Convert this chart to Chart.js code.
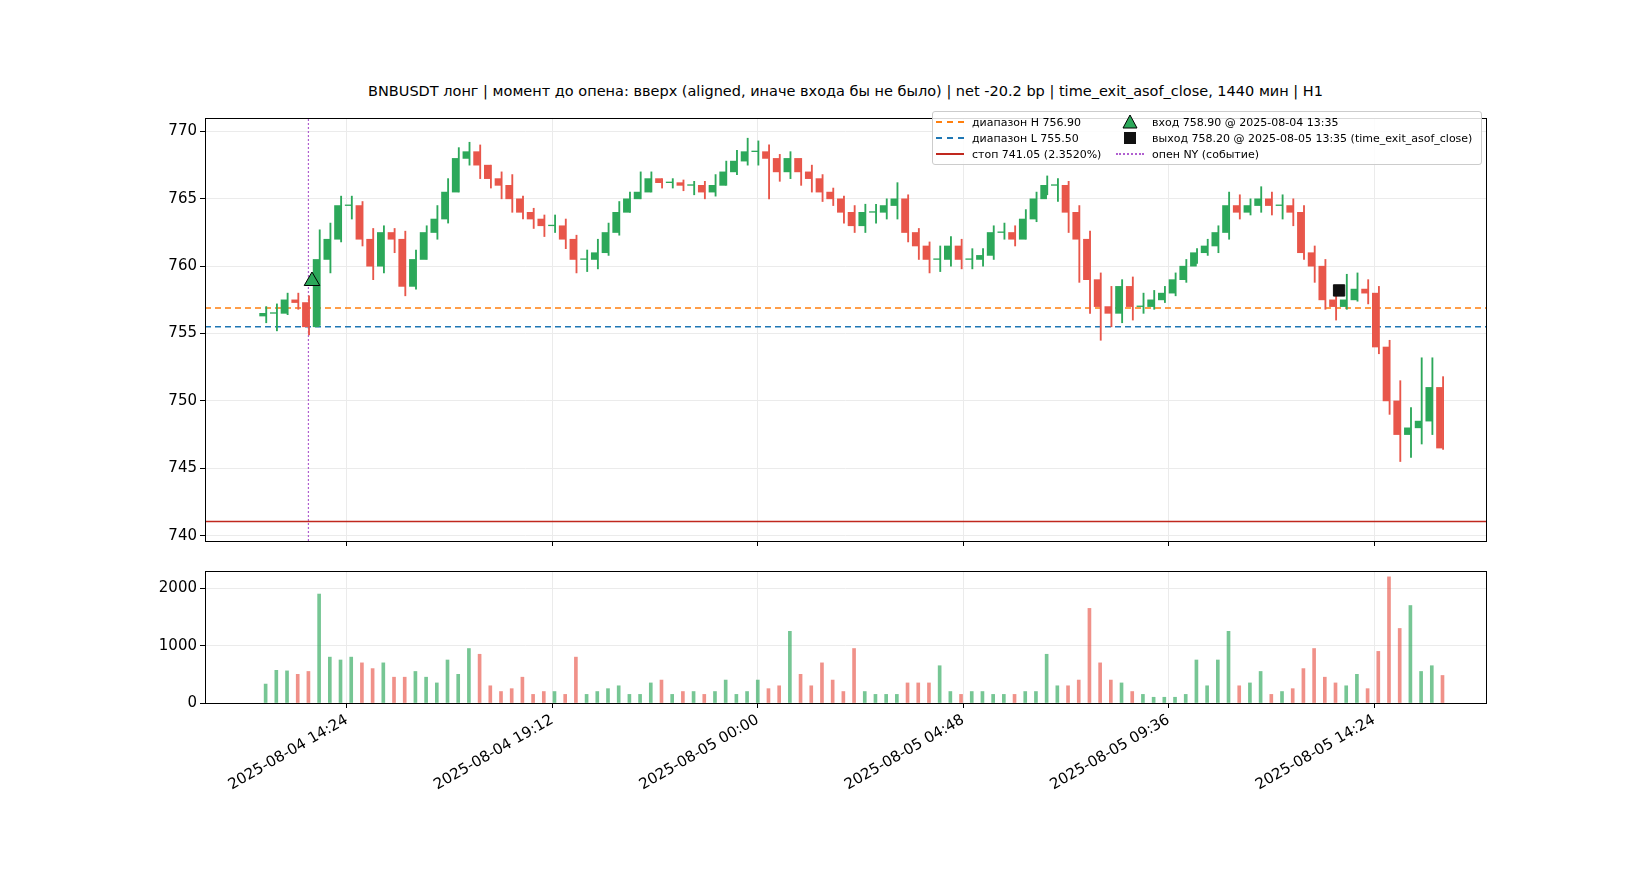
<!DOCTYPE html>
<html><head><meta charset="utf-8">
<script src="https://cdn.jsdelivr.net/npm/chart.js@4.4.1/dist/chart.umd.min.js"></script>
<style>
body{margin:0;width:1650px;height:880px;background:#fff;font-family:"DejaVu Sans",sans-serif;position:relative;overflow:hidden}
canvas{position:absolute}
#title{position:absolute;top:83px;left:205px;width:1281px;text-align:center;font-size:14.5px;color:#000}
#legend{position:absolute;left:932px;top:111px;width:548px;height:52px;border:1px solid #ccc;border-radius:3px;background:rgba(255,255,255,0.85);font-size:11px;color:#000}
.li{position:absolute;display:flex;align-items:center;height:16px}
.sw{width:28px;margin-right:8px;height:0}
</style></head><body>
<div id="title">BNBUSDT лонг | момент до опена: вверх (aligned, иначе входа бы не было) | net -20.2 bp | time_exit_asof_close, 1440 мин | H1</div>
<canvas id="pc" width="1370" height="447" style="left:137px;top:106px;width:1370px;height:447px"></canvas>
<canvas id="vc" width="1370" height="321" style="left:137px;top:559px;width:1370px;height:321px"></canvas>
<div id="legend">
 <div class="li" style="left:3px;top:2px"><div class="sw" style="border-top:2px dashed #ff7f0e"></div>диапазон H 756.90</div>
 <div class="li" style="left:3px;top:18px"><div class="sw" style="border-top:2px dashed #1f77b4"></div>диапазон L 755.50</div>
 <div class="li" style="left:3px;top:34px"><div class="sw" style="border-top:2px solid #c0281e"></div>стоп 741.05 (2.3520%)</div>
 <div class="li" style="left:183px;top:2px"><div class="sw" style="height:16px;border:none"><svg width="28" height="16"><polygon points="14,1 21,14 7,14" fill="#2ca85a" stroke="#000" stroke-width="1"/></svg></div>вход 758.90 @ 2025-08-04 13:35</div>
 <div class="li" style="left:183px;top:18px"><div class="sw" style="height:16px;border:none"><svg width="28" height="16"><rect x="8" y="2" width="12" height="12" fill="#111"/></svg></div>выход 758.20 @ 2025-08-05 13:35 (time_exit_asof_close)</div>
 <div class="li" style="left:183px;top:34px"><div class="sw" style="border-top:2px dotted #b060d0"></div>опен NY (событие)</div>
</div>
<script>
// minutes since 2025-08-04 00:00; 15-min candles starting 12:30
const startMin = 750, stepMin = 15;
const closes = [756.5,756.5,757.5,757.3,755.5,760.5,762,764.5,764.5,762,
760,762.5,762,758.5,760.5,762.5,763.5,765.5,768,768.5,
767.5,766.5,766,765,764,763.5,763,763,762,760.5,
760.5,761,762.5,764,765,765.5,766.5,766.2,766.2,766,
766,765.5,766,767,767.8,768.5,768.5,768,767,768,
767,766.5,765.5,765,764,763,764,764,764.5,765,
762.5,761.5,760.5,760.5,761.5,760.5,760.5,760.8,762.5,762.5,
762,763.5,765,766,766,764,762,759,757,756.5,
758.5,757,757,757.5,758,759,760,761,761.5,762.5,
764.5,764,764.5,765,764.5,764.5,764,761,760,757.5,
757,757.5,758.3,758,754,750,747.5,748,748.5,751,
746.5];
const firstOpen = 756.3;
const highs = [757.0,757.2,758.0,758.0,757.8,762.7,763.2,765.2,765.2,764.8,
762.8,763.0,762.8,762.6,761.2,763.0,764.5,766.5,768.8,769.2,
769.0,767.5,767.0,766.8,765.2,764.3,763.8,763.8,763.5,762.3,
761.2,762.0,763.2,764.8,765.5,767.0,767.0,766.5,766.5,766.4,
766.3,766.3,766.8,767.8,768.6,769.5,769.3,769.0,768.3,768.5,
768.0,767.5,766.8,765.8,765.2,764.5,764.6,764.6,765.0,766.2,
765.3,762.8,761.8,761.5,762.2,762.0,761.3,761.3,763.0,763.2,
763.0,764.2,765.5,766.7,766.5,766.3,764.5,762.6,759.5,758.5,
759.0,759.2,758.0,758.2,758.5,759.5,760.5,761.3,762.0,763.0,
765.5,765.3,765.0,765.9,765.5,765.3,765.0,764.5,761.5,760.5,
758.5,759.4,759.5,759.0,758.5,754.5,751.5,749.5,753.2,753.2,
751.8];
const lows = [755.8,755.2,756.4,756.8,754.9,755.6,759.5,761.8,763.5,761.5,
759.0,759.5,761.0,757.8,758.3,760.5,762.0,763.2,765.5,767.5,
766.5,765.8,765.0,764.0,763.5,762.8,762.2,762.5,761.3,759.5,
759.6,759.8,760.8,762.3,764.0,765.0,765.5,765.8,765.8,765.6,
765.3,765.0,765.2,766.0,766.8,767.5,767.5,765.0,766.3,766.5,
766.0,765.5,764.8,764.5,763.2,762.5,762.5,763.2,763.5,763.5,
761.8,760.5,759.5,759.6,760.0,759.8,759.8,760.0,760.5,762.0,
761.5,762.0,763.3,765.3,764.8,762.5,758.8,756.5,754.5,755.5,
755.8,756.0,756.5,756.8,757.3,757.8,758.8,760.2,760.8,761.0,
762.0,763.5,763.8,764.0,763.8,763.5,763.0,760.5,758.8,756.8,
756.0,756.8,757.4,757.2,753.5,749.0,745.5,745.8,746.8,747.5,
746.4];
const volumes = [330,570,560,500,550,1900,800,750,800,700,
600,700,450,450,550,450,350,750,500,950,
850,300,200,250,450,150,200,200,150,800,
150,200,250,300,150,150,350,400,150,200,
200,150,200,400,150,200,400,250,300,1250,
500,300,700,400,200,950,200,150,150,150,
350,350,350,650,200,150,200,200,150,150,
150,200,200,850,300,300,400,1650,700,400,
350,200,150,100,100,100,150,750,300,750,
1250,300,350,550,150,200,250,600,950,450,
350,300,500,250,900,2200,1300,1700,550,650,
480];
const rangeH = 756.90, rangeL = 755.50, stop = 741.05;
const entryT = 815, entryP = 758.90, exitT = 2255, exitP = 758.20, nyOpenT = 810;
const tickVals = [864,1152,1440,1728,2016,2304];
const tickLabels = ['2025-08-04 14:24','2025-08-04 19:12','2025-08-05 00:00','2025-08-05 04:48','2025-08-05 09:36','2025-08-05 14:24'];
const xMin = 665, xMax = 2461;

const GREEN='#2ca85a', RED='#e8564a';
const opens = closes.map((c,i)=> i===0 ? firstOpen : closes[i-1]);
const times = closes.map((c,i)=> startMin + stepMin*i);
const up = closes.map((c,i)=> c>=opens[i]);
const cols = up.map(u=> u?GREEN:RED);

const frame = {id:'frame',afterDraw(ch){const a=ch.chartArea,c=ch.ctx;c.save();c.strokeStyle='#000';c.lineWidth=1;c.strokeRect(a.left+0.5,a.top+0.5,a.right-a.left,a.bottom-a.top);c.restore();}};
const gridCol='#ebebeb';
const FONT={family:'DejaVu Sans',size:15};
function xScale(showLabels,h){return {type:'linear',min:xMin,max:xMax,offset:false,
  afterBuildTicks(s){s.ticks=tickVals.map(v=>({value:v}));},
  afterFit(s){s.height=h;},
  grid:{color:gridCol,tickColor:'#000',tickLength:5,drawTicks:true,offset:false},
  border:{display:false},
  ticks:{display:showLabels,autoSkip:false,maxRotation:30,minRotation:30,color:'#000',font:FONT,callback:(v)=>{const i=tickVals.indexOf(v);return i>=0?tickLabels[i]:'';}}};}
const yFit = s=>{s.width=68;};

new Chart(document.getElementById('pc'),{
 type:'bar',
 data:{datasets:[
  {type:'line',data:[{x:xMin,y:rangeH},{x:xMax,y:rangeH}],borderColor:'#ff7f0e',borderWidth:1.5,borderDash:[6,4],pointRadius:0,order:5},
  {type:'line',data:[{x:xMin,y:rangeL},{x:xMax,y:rangeL}],borderColor:'#1f77b4',borderWidth:1.5,borderDash:[6,4],pointRadius:0,order:5},
  {type:'line',data:[{x:xMin,y:stop},{x:xMax,y:stop}],borderColor:'#c0281e',borderWidth:1.5,pointRadius:0,order:5},
  {type:'line',data:[{x:nyOpenT,y:739.6},{x:nyOpenT,y:771}],borderColor:'#b060d0',borderWidth:1.2,borderDash:[2,2],pointRadius:0,order:5},
  {data:times.map((t,i)=>({x:t,y:[lows[i],highs[i]]})),backgroundColor:cols,barThickness:1.2,order:3},
  {data:times.map((t,i)=>({x:t,y:[opens[i],closes[i]===opens[i]?closes[i]+0.05:closes[i]]})),backgroundColor:cols,barThickness:6,order:2},
  {type:'scatter',data:[{x:entryT,y:entryP}],pointStyle:'triangle',pointRadius:9,backgroundColor:GREEN,borderColor:'#000',borderWidth:1,order:0},
  {type:'scatter',data:[{x:exitT,y:exitP}],pointStyle:'rect',pointRadius:8,backgroundColor:'#111',borderColor:'#111',order:0}
 ]},
 options:{animation:false,responsive:false,devicePixelRatio:1,
  layout:{padding:{left:0,right:21,top:0,bottom:0}},
  plugins:{legend:{display:false},tooltip:{enabled:false}},
  scales:{x:xScale(false,10),
   y:{min:739.6,max:771,afterFit:yFit,afterBuildTicks(s){s.ticks=[740,745,750,755,760,765,770].map(v=>({value:v}));},
      grid:{color:gridCol,tickColor:'#000',tickLength:5},border:{display:false},
      ticks:{color:'#000',font:FONT}}}},
 plugins:[frame]});

new Chart(document.getElementById('vc'),{
 type:'bar',
 data:{datasets:[{data:times.map((t,i)=>({x:t,y:volumes[i]})),backgroundColor:up.map(u=>u?'rgba(44,168,90,0.65)':'rgba(232,86,74,0.65)'),barThickness:3}]},
 options:{animation:false,responsive:false,devicePixelRatio:1,
  layout:{padding:{left:0,right:21,top:0,bottom:0}},
  plugins:{legend:{display:false},tooltip:{enabled:false}},
  scales:{x:xScale(true,177),
   y:{min:0,max:2302,afterFit:yFit,afterBuildTicks(s){s.ticks=[0,1000,2000].map(v=>({value:v}));},
      grid:{color:gridCol,tickColor:'#000',tickLength:5},border:{display:false},
      ticks:{color:'#000',font:FONT,callback:v=>String(v)}}}},
 plugins:[frame]});
</script>
</body></html>
